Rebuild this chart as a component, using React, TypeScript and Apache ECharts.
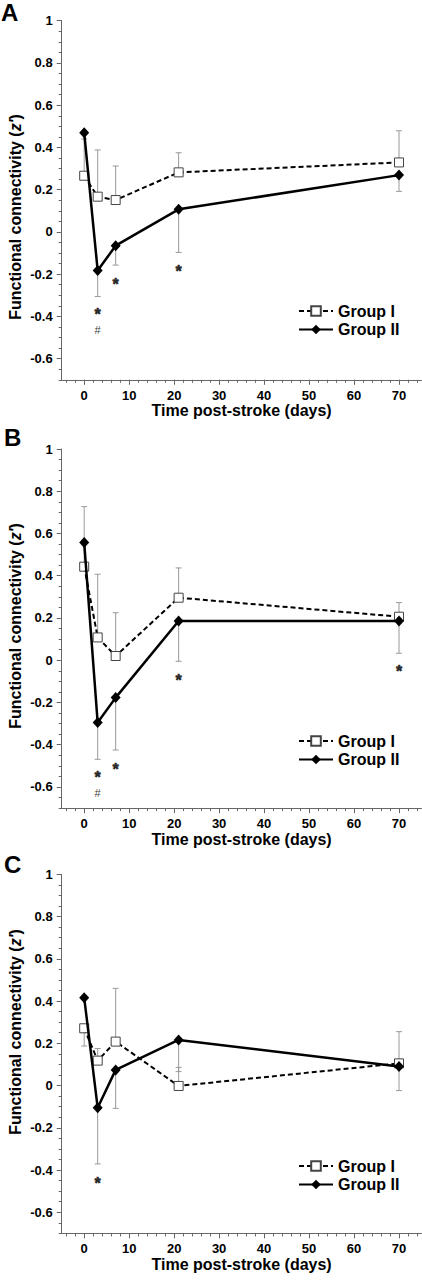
import React, { useEffect, useRef } from "react";
import * as echarts from "echarts";

const FONT = "'Liberation Sans', Arial, Helvetica, sans-serif";

// Shared categories (days post-stroke)
const DAYS = [0, 3, 7, 21, 70];

// Tick labels
const X_LABELS = [0, 10, 20, 30, 40, 50, 60, 70];
const Y_LABELS = [-0.6, -0.4, -0.2, 0, 0.2, 0.4, 0.6, 0.8, 1];

// Panel A
const A_G1 = [0.266, 0.167, 0.151, 0.282, 0.329];
const A_G1_ERR = [0.44, 0.388, 0.312, 0.375, 0.479];
const A_G2 = [0.47, -0.183, -0.065, 0.107, 0.269];
const A_G2_ERR = [null, -0.306, -0.157, -0.097, 0.192];
// significance marks: [day, y, symbol]
const A_MARKS: [number, number, string][] = [
  [3, -0.373, "*"],
  [3, -0.464, "#"],
  [7, -0.232, "*"],
  [21, -0.169, "*"],
];

// Panel B
const B_G1 = [0.443, 0.108, 0.02, 0.296, 0.206];
const B_G1_ERR = [0.727, 0.407, 0.225, 0.437, 0.273];
const B_G2 = [0.557, -0.295, -0.177, 0.186, 0.186];
const B_G2_ERR = [null, -0.469, -0.425, -0.005, 0.033];
const B_MARKS: [number, number, string][] = [
  [3, -0.538, "*"],
  [3, -0.628, "#"],
  [7, -0.499, "*"],
  [21, -0.078, "*"],
  [70, -0.035, "*"],
];

// Panel C
const C_G1 = [0.271, 0.118, 0.208, -0.002, 0.105];
const C_G1_ERR = [0.187, 0.175, 0.46, 0.086, 0.255];
const C_G2 = [0.416, -0.105, 0.074, 0.216, 0.09];
const C_G2_ERR = [null, -0.371, -0.108, 0.066, -0.024];
const C_MARKS: [number, number, string][] = [[3, -0.447, "*"]];

const PANELS = [
  { letter: "A", g1: A_G1, g1e: A_G1_ERR, g2: A_G2, g2e: A_G2_ERR, marks: A_MARKS },
  { letter: "B", g1: B_G1, g1e: B_G1_ERR, g2: B_G2, g2e: B_G2_ERR, marks: B_MARKS },
  { letter: "C", g1: C_G1, g1e: C_G1_ERR, g2: C_G2, g2e: C_G2_ERR, marks: C_MARKS },
];

// Layout (pixels)
const GRID_TOPS = [20.7, 449, 874.3];
const GRID_LEFT = 61.7;
const GRID_W = 359.8;
const GRID_H = 359.1;
const YTITLE_Y = [217, 626, 1032];
const LETTER_POS = [
  [1, 12.5],
  [4, 437],
  [4, 864],
];
const LEGEND_TOPS = [298, 728, 1153];

const X_MINOR: number[] = [];
for (let v = -4; v <= 74; v += 2) X_MINOR.push(v);
const Y_MINOR: number[] = [];
for (let i = 0; i <= 34; i++) Y_MINOR.push(Math.round((-0.7 + i * 0.05) * 100) / 100);

function errData(vals: number[], ends: (number | null)[]) {
  const out: number[][] = [];
  DAYS.forEach((d, i) => {
    const e = ends[i];
    if (e !== null && e !== undefined) out.push([d, vals[i], e]);
  });
  return out;
}

function renderErr(params: any, api: any) {
  const x = api.value(0);
  const v = api.value(1);
  const e = api.value(2);
  const p0 = api.coord([x, v]);
  const p1 = api.coord([x, e]);
  const st = { stroke: "#9a9a9a", lineWidth: 1 };
  return {
    type: "group",
    children: [
      { type: "line", shape: { x1: p0[0], y1: p0[1], x2: p1[0], y2: p1[1] }, style: st },
      { type: "line", shape: { x1: p1[0] - 3, y1: p1[1], x2: p1[0] + 3, y2: p1[1] }, style: st },
    ],
  };
}

function buildOption() {
  const grid: any[] = [];
  const xAxis: any[] = [];
  const yAxis: any[] = [];
  const series: any[] = [];
  const legend: any[] = [];
  const graphic: any[] = [];

  PANELS.forEach((p, i) => {
    grid.push({ left: GRID_LEFT, top: GRID_TOPS[i], width: GRID_W, height: GRID_H });
    xAxis.push({
      type: "value",
      gridIndex: i,
      min: -5,
      max: 75,
      position: "bottom",
      axisLine: { show: true, onZero: false, lineStyle: { color: "#666", width: 1 } },
      axisTick: { show: true, customValues: X_LABELS, length: 5, lineStyle: { color: "#666" } },
      axisLabel: {
        customValues: X_LABELS,
        margin: 9,
        color: "#000",
        fontFamily: FONT,
        fontWeight: "bold",
        fontSize: 13,
      },
      splitLine: { show: false },
      name: "Time post-stroke (days)",
      nameLocation: "middle",
      nameGap: 22,
      nameTextStyle: { color: "#000", fontFamily: FONT, fontWeight: "bold", fontSize: 16 },
    });
    yAxis.push({
      type: "value",
      gridIndex: i,
      min: -0.7,
      max: 1,
      position: "left",
      axisLine: { show: true, onZero: false, lineStyle: { color: "#666", width: 1 } },
      axisTick: { show: true, customValues: Y_LABELS, length: 5, lineStyle: { color: "#666" } },
      axisLabel: {
        customValues: Y_LABELS,
        margin: 9,
        color: "#000",
        fontFamily: FONT,
        fontWeight: "bold",
        fontSize: 13,
        formatter: (v: number) => {
          const r = Math.round(v * 10) / 10;
          return r === 0 ? "0" : String(r);
        },
      },
      splitLine: { show: false },
    });
  });
  // minor tick axes
  PANELS.forEach((p, i) => {
    xAxis.push({
      type: "value",
      gridIndex: i,
      min: -5,
      max: 75,
      position: "bottom",
      axisLine: { show: false, onZero: false },
      axisTick: { show: true, customValues: X_MINOR, length: 3, lineStyle: { color: "#666" } },
      axisLabel: { show: false },
      splitLine: { show: false },
    });
    yAxis.push({
      type: "value",
      gridIndex: i,
      min: -0.7,
      max: 1,
      position: "left",
      axisLine: { show: false, onZero: false },
      axisTick: { show: true, customValues: Y_MINOR, length: 3, lineStyle: { color: "#666" } },
      axisLabel: { show: false },
      splitLine: { show: false },
    });
  });

  PANELS.forEach((p, i) => {
    series.push({
      type: "custom",
      name: "err1-" + i,
      xAxisIndex: i,
      yAxisIndex: i,
      renderItem: renderErr,
      encode: { x: 0, y: [1, 2] },
      data: errData(p.g1, p.g1e),
      z: 1,
      silent: true,
    });
    series.push({
      type: "custom",
      name: "err2-" + i,
      xAxisIndex: i,
      yAxisIndex: i,
      renderItem: renderErr,
      encode: { x: 0, y: [1, 2] },
      data: errData(p.g2, p.g2e),
      z: 1,
      silent: true,
    });
    series.push({
      type: "line",
      name: "Group I",
      xAxisIndex: i,
      yAxisIndex: i,
      data: DAYS.map((d, k) => [d, p.g1[k]]),
      symbol: "rect",
      symbolSize: 9,
      showAllSymbol: true,
      lineStyle: { color: "#000", width: 2, type: [5, 3] },
      itemStyle: { color: "#fff", borderColor: "#444", borderWidth: 1 },
      z: 3,
    });
    series.push({
      type: "line",
      name: "Group II",
      xAxisIndex: i,
      yAxisIndex: i,
      data: DAYS.map((d, k) => [d, p.g2[k]]),
      symbol: "diamond",
      symbolSize: [10, 11],
      showAllSymbol: true,
      lineStyle: { color: "#000", width: 2.5 },
      itemStyle: { color: "#000", borderColor: "#000", borderWidth: 0 },
      z: 4,
    });
    series.push({
      type: "scatter",
      name: "marks-" + i,
      xAxisIndex: i,
      yAxisIndex: i,
      data: p.marks,
      symbolSize: 1,
      itemStyle: { color: "rgba(0,0,0,0)" },
      silent: true,
      z: 5,
      labelLayout: { hideOverlap: false },
      label: {
        show: true,
        position: "inside",
        formatter: (q: any) => (q.value[2] === "#" ? "{h|#}" : "{s|*}"),
        rich: {
          s: {
            fontFamily: FONT,
            fontWeight: "bold",
            fontSize: 16,
            lineHeight: 16,
            color: "#000",
            textBorderColor: "#000",
            textBorderWidth: 0.6,
            padding: [7, 0, 0, 0],
          },
          h: { fontFamily: FONT, fontWeight: "normal", fontSize: 11, lineHeight: 11, color: "#000" },
        },
      },
    });

    legend.push({
      data: ["Group I", "Group II"],
      orient: "vertical",
      left: 293,
      top: LEGEND_TOPS[i],
      itemWidth: 34,
      itemHeight: 12,
      itemGap: 2.5,
      selectedMode: false,
      textStyle: { color: "#000", fontFamily: FONT, fontWeight: "bold", fontSize: 16, lineHeight: 16 },
    });

    graphic.push({
      type: "text",
      x: 15,
      y: YTITLE_Y[i],
      rotation: Math.PI / 2,
      style: {
        text: "Functional connectivity ({i|z'})",
        font: `bold 16px ${FONT}`,
        fill: "#000",
        align: "center",
        verticalAlign: "middle",
        rich: {
          i: { fontFamily: FONT, fontWeight: "bold", fontStyle: "italic", fontSize: 16, fill: "#000" },
        },
      },
    });
    graphic.push({
      type: "text",
      x: LETTER_POS[i][0],
      y: LETTER_POS[i][1],
      style: {
        text: p.letter,
        font: `bold 24px ${FONT}`,
        fill: "#000",
        align: "left",
        verticalAlign: "middle",
      },
    });
  });

  return {
    animation: false,
    backgroundColor: "#fff",
    grid,
    xAxis,
    yAxis,
    series,
    legend,
    graphic,
  };
}

export default function App() {
  const ref = useRef<HTMLDivElement>(null);
  useEffect(() => {
    document.body.style.margin = "0";
    if (!ref.current) return;
    const chart = echarts.init(ref.current, undefined, { renderer: "svg" });
    chart.setOption(buildOption() as any);
    return () => chart.dispose();
  }, []);
  return <div ref={ref} style={{ width: 422, height: 1280 }} />;
}
